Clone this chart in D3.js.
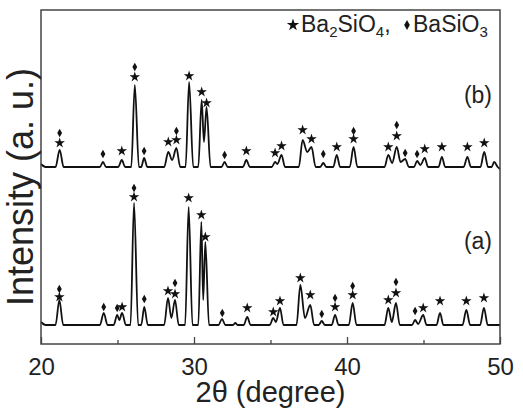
<!DOCTYPE html>
<html>
<head>
<meta charset="utf-8">
<script src="https://cdnjs.cloudflare.com/ajax/libs/d3/7.8.5/d3.min.js"></script>
<style>
body { margin: 0; background: #fff; }
svg { display: block; font-family: 'Liberation Sans', Arial, sans-serif; }
</style>
</head>
<body>
<svg></svg>
<script>
const margin = { top: 10, right: 23, bottom: 67, left: 41 };
const w = 523 - margin.left - margin.right;
const h = 411 - margin.top - margin.bottom;

const xTicks = [20, 30, 40, 50];
const xMinorTicks = [25, 35, 45];
const sampleLabels = ['(a)', '(b)'];
const offsetB = 158;

// [2theta, intensity], sample (a)
const traceA = [
    [20, 3], [20.3, 0],
    [20.95, 0], [21.2, 25], [21.45, 0],
    [23.85, 0], [24.1, 12], [24.35, 0],
    [24.75, 0], [24.98, 10], [25.12, 5], [25.3, 12], [25.55, 0],
    [25.85, 0], [26.08, 122], [26.35, 0],
    [26.55, 0], [26.75, 18], [26.98, 0],
    [28.05, 0], [28.3, 27], [28.52, 7], [28.76, 25], [29.0, 0],
    [29.42, 0], [29.65, 118], [29.9, 0],
    [30.28, 0], [30.48, 103], [30.6, 25], [30.74, 83], [30.98, 0],
    [31.6, 0], [31.83, 6], [32.05, 0],
    [32.55, 0], [32.7, 2], [32.85, 0],
    [33.25, 0], [33.48, 8], [33.7, 0],
    [34.95, 0], [35.18, 7], [35.35, 3], [35.62, 17], [35.85, 0],
    [36.7, 0], [36.95, 40], [37.25, 7], [37.6, 20], [37.85, 0],
    [38.15, 0], [38.35, 4], [38.55, 0],
    [39.0, 0], [39.22, 10], [39.45, 0],
    [40.12, 0], [40.37, 22], [40.62, 0],
    [42.45, 0], [42.7, 17], [42.93, 3], [43.2, 22], [43.45, 0],
    [44.25, 0], [44.45, 5], [44.65, 1], [44.98, 10], [45.2, 0],
    [45.85, 0], [46.08, 12], [46.3, 0],
    [47.55, 0], [47.8, 15], [48.05, 0],
    [48.7, 0], [48.95, 17], [49.2, 0],
    [50, 0]
];

// sample (b)
const traceB = [
    [20, 3], [20.3, 0],
    [20.95, 0], [21.22, 17], [21.48, 0],
    [23.85, 0], [24.05, 5], [24.25, 0],
    [25.05, 0], [25.28, 7], [25.5, 0],
    [25.9, 0], [26.13, 82], [26.4, 0],
    [26.55, 0], [26.74, 9], [26.95, 0],
    [28.05, 0], [28.32, 15], [28.57, 7], [28.85, 19], [29.1, 0],
    [29.45, 0], [29.68, 85], [29.95, 0],
    [30.28, 0], [30.5, 67], [30.65, 25], [30.82, 60], [31.08, 0],
    [31.8, 0], [32.0, 5], [32.2, 0],
    [33.2, 0], [33.42, 7], [33.65, 0],
    [35.08, 0], [35.3, 5], [35.45, 3], [35.72, 12], [35.95, 0],
    [36.85, 0], [37.1, 27], [37.4, 15], [37.68, 20], [37.95, 0],
    [38.25, 0], [38.45, 4], [38.65, 0],
    [39.1, 0], [39.33, 12], [39.55, 0],
    [40.18, 0], [40.43, 20], [40.68, 0],
    [42.45, 0], [42.7, 12], [42.95, 4], [43.25, 20], [43.5, 5], [43.8, 8], [44.05, 0],
    [44.38, 0], [44.58, 6], [44.8, 2], [45.08, 9], [45.3, 0],
    [45.98, 0], [46.2, 10], [46.42, 0],
    [47.62, 0], [47.87, 10], [48.1, 0],
    [48.72, 0], [48.97, 15], [49.22, 0],
    [49.45, 0], [49.62, 5], [49.85, 0], [50, -2]
];

// phase markers: [2theta, level, kind]  s = Ba2SiO4, d = BaSiO3
const marksA = [
    [21.2, 28, 's'], [21.2, 36, 'd'], [24.1, 18, 'd'], [24.98, 17, 'd'], [25.3, 18, 's'],
    [26.08, 128, 's'], [26.08, 137, 'd'], [26.75, 26, 'd'], [28.3, 34, 's'],
    [28.76, 31, 's'], [28.76, 42, 'd'], [29.65, 127, 's'], [30.48, 110, 's'], [30.74, 88, 's'],
    [31.85, 12, 'd'], [33.48, 17, 's'], [35.18, 13, 's'], [35.62, 24, 's'], [36.95, 47, 's'],
    [37.6, 30, 's'], [38.35, 11, 'd'], [39.22, 18, 's'], [39.22, 27, 'd'],
    [40.37, 30, 's'], [40.37, 39, 'd'], [42.7, 25, 's'], [43.2, 32, 's'], [43.2, 43, 'd'],
    [44.45, 14, 'd'], [44.98, 17, 's'], [46.08, 24, 's'], [47.8, 24, 's'], [48.95, 27, 's']
];
const marksB = [
    [21.22, 24, 's'], [21.22, 34, 'd'], [24.05, 13, 'd'], [25.28, 16, 's'],
    [26.13, 90, 's'], [26.13, 100, 'd'], [26.74, 16, 'd'], [28.32, 25, 's'],
    [28.85, 27, 's'], [28.85, 36, 'd'], [29.68, 91, 's'], [30.5, 75, 's'], [30.82, 64, 's'],
    [32.0, 12, 'd'], [33.42, 16, 's'], [35.3, 14, 's'], [35.72, 21, 's'], [37.1, 37, 's'],
    [37.68, 28, 's'], [38.45, 13, 'd'], [39.33, 20, 's'], [40.43, 28, 's'], [40.43, 36, 'd'],
    [42.7, 20, 's'], [43.25, 31, 's'], [43.25, 42, 'd'], [43.8, 14, 'd'], [44.58, 13, 'd'],
    [45.08, 18, 's'], [46.2, 20, 's'], [47.87, 20, 's'], [48.97, 24, 's']
];

let svg = d3.select('svg')
    .attr('width', 523)
    .attr('height', 411);

let g = svg.append('g')
    .attr('transform', `translate(${margin.left}, ${margin.top})`);

let xScale = d3.scaleLinear()
    .domain([20, 50])
    .range([0, w]);

let yScale = d3.scaleLinear()
    .domain([-19, 315])
    .range([h, 0]);

let star = d3.symbol().type(d3.symbolStar).size(34);
let diamond = d3.symbol().type(d3.symbolDiamond).size(20);

function drawTrace(data, marks, off) {
    let line = d3.line()
        .x(d => xScale(d[0]))
        .y(d => yScale(d[1] + off))
        .curve(d3.curveMonotoneX);
    g.append('path')
        .datum(data)
        .attr('d', line)
        .attr('fill', 'none')
        .attr('stroke', '#111')
        .attr('stroke-width', 1.8)
        .attr('stroke-linejoin', 'round');
    g.selectAll(null)
        .data(marks)
        .enter()
        .append('path')
        .attr('transform', d => `translate(${xScale(d[0])}, ${yScale(d[1] + off)})`)
        .attr('d', d => d[2] == 's' ? star() : diamond())
        .attr('fill', '#111');
}

drawTrace(traceA, marksA, 0);
drawTrace(traceB, marksB, offsetB);

// frame
g.append('rect')
    .attr('width', w)
    .attr('height', h)
    .attr('fill', 'none')
    .attr('stroke', '#444')
    .attr('stroke-width', 1.5);

let xAxis = d3.axisBottom(xScale)
    .tickValues(xTicks)
    .tickSize(-7)
    .tickPadding(14)
    .tickFormat(d3.format('d'));
let xMinor = d3.axisBottom(xScale)
    .tickValues(xMinorTicks)
    .tickSize(-4)
    .tickFormat('');

let ax = g.append('g')
    .attr('transform', `translate(0, ${h})`)
    .call(xAxis);
ax.select('.domain').remove();
ax.selectAll('line').attr('stroke', '#444').attr('stroke-width', 1.3);
ax.selectAll('text')
    .attr('font-size', 24)
    .attr('font-family', 'Liberation Sans, Arial, sans-serif')
    .attr('fill', '#222');

let axm = g.append('g')
    .attr('transform', `translate(0, ${h})`)
    .call(xMinor);
axm.select('.domain').remove();
axm.selectAll('line').attr('stroke', '#444').attr('stroke-width', 1.3);

// sample labels
const labelLevels = [76, 64];
g.selectAll('.lbl')
    .data(sampleLabels)
    .enter()
    .append('text')
    .attr('x', w - 8)
    .attr('y', (d, i) => yScale(i * offsetB + labelLevels[i]))
    .attr('text-anchor', 'end')
    .attr('font-size', 23)
    .attr('fill', '#222')
    .text(d => d);

// legend
svg.append('path')
    .attr('transform', 'translate(293, 25)')
    .attr('d', d3.symbol().type(d3.symbolStar).size(48)())
    .attr('fill', '#111');
let t1 = svg.append('text')
    .attr('x', 301)
    .attr('y', 32)
    .attr('font-size', 23)
    .attr('fill', '#222');
t1.append('tspan').text('Ba');
t1.append('tspan').attr('font-size', 15).attr('dy', 5).text('2');
t1.append('tspan').attr('dy', -5).text('SiO');
t1.append('tspan').attr('font-size', 15).attr('dy', 5).text('4');
t1.append('tspan').attr('dy', -5).text(',');

svg.append('path')
    .attr('transform', 'translate(407, 25)')
    .attr('d', d3.symbol().type(d3.symbolDiamond).size(28)())
    .attr('fill', '#111');
let t2 = svg.append('text')
    .attr('x', 413)
    .attr('y', 32)
    .attr('font-size', 23)
    .attr('fill', '#222');
t2.append('tspan').text('BaSiO');
t2.append('tspan').attr('font-size', 15).attr('dy', 5).text('3');

//y-axis title
svg.append('text')
    .attr('transform', 'rotate(-90)')
    .attr('x', -187)
    .attr('y', 33)
    .style('text-anchor', 'middle')
    .attr('font-size', 36)
    .attr('fill', '#222')
    .text('Intensity (a. u.)');

//x-axis title
svg.append('text')
    .attr('x', margin.left + w / 2)
    .attr('y', 402)
    .style('text-anchor', 'middle')
    .attr('font-size', 29)
    .attr('fill', '#222')
    .text('2θ (degree)');
</script>
</body>
</html>
